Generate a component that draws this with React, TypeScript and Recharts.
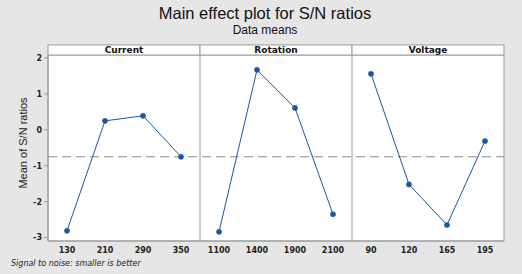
import React from 'react';
import { LineChart, Line, XAxis, YAxis, ReferenceArea, ReferenceLine } from 'recharts';

const factorNames = ['Current', 'Rotation', 'Voltage'];
const currentLevels = ['130', '210', '290', '350'];
const rotationLevels = ['1100', '1400', '1900', '2100'];
const voltageLevels = ['90', '120', '165', '195'];
const currentValues = [-2.81, 0.25, 0.39, -0.75];
const rotationValues = [-2.84, 1.67, 0.61, -2.35];
const voltageValues = [1.56, -1.52, -2.65, -0.31];
const overallMean = -0.75;
const yTicks = [-3, -2, -1, 0, 1, 2];

const xLabels = [...currentLevels, ...rotationLevels, ...voltageLevels];
const series = [currentValues, rotationValues, voltageValues];

const data = xLabels.map((label, i) => {
  const panel = Math.floor(i / 4);
  const row: any = { x: i, label };
  factorNames.forEach((name, k) => {
    row[name] = k === panel ? series[k][i % 4] : null;
  });
  return row;
});

const Y_MIN = -3.095;
const Y_MAX = 2.084;
const HEADER_TOP = 2.364;
const X_MIN = -0.5;
const X_MAX = 11.5;

const BORDER = '#9a9a9a';
const BLUE = '#1c56a0';
const TICK_FONT = { fontFamily: 'DejaVu Sans', fontSize: 8, fontWeight: 'bold', fill: '#222' } as any;

const YLabel = (props: any) => {
  const vb = props.viewBox || { x: 0, y: 55, width: 48, height: 186 };
  const cx = 27;
  const cy = vb.y + vb.height / 2 - 5;
  return (
    <text
      x={cx}
      y={cy}
      transform={`rotate(-90 ${cx} ${cy})`}
      textAnchor="middle"
      fontFamily="Liberation Sans"
      fontSize={11}
      fill="#222"
    >
      Mean of S/N ratios
    </text>
  );
};

export default function App() {
  return (
    <div style={{ position: 'absolute', left: 0, top: 0, width: 522, height: 274, background: '#e6e6e6', overflow: 'hidden' }}>
      <div style={{ position: 'absolute', left: 0, width: 530, top: 3, textAlign: 'center', fontFamily: 'Liberation Sans', fontSize: 16.5, color: '#111', lineHeight: '20px' }}>
        Main effect plot for S/N ratios
      </div>
      <div style={{ position: 'absolute', left: 0, width: 530, top: 23, textAlign: 'center', fontFamily: 'Liberation Sans', fontSize: 12, color: '#111', lineHeight: '14px' }}>
        Data means
      </div>
      <div style={{ position: 'absolute', left: 11, top: 259, fontFamily: 'DejaVu Sans', fontStyle: 'italic', fontSize: 8, color: '#222', lineHeight: '10px' }}>
        Signal to noise: smaller is better
      </div>
      <div style={{ position: 'absolute', left: 0, top: 0 }}>
        <LineChart width={522} height={274} data={data} margin={{ top: 55, right: 18, bottom: 3, left: 0 }}>
          <ReferenceArea x1={X_MIN} x2={X_MAX} y1={Y_MIN} y2={Y_MAX} fill="#ffffff" fillOpacity={1} stroke={BORDER} ifOverflow="visible" />
          {factorNames.map((name, k) => (
            <ReferenceArea
              key={name}
              x1={k * 4 - 0.5}
              x2={k * 4 + 3.5}
              y1={Y_MAX}
              y2={HEADER_TOP}
              fill="#ffffff"
              fillOpacity={1}
              stroke={BORDER}
              ifOverflow="visible"
              label={{ value: name, position: 'center', fontFamily: 'DejaVu Sans', fontSize: 9, fontWeight: 'bold', fill: '#111' }}
            />
          ))}
          <XAxis
            dataKey="x"
            type="number"
            domain={[X_MIN, X_MAX]}
            ticks={xLabels.map((_, i) => i)}
            interval={0}
            height={30}
            tickFormatter={(v: number) => xLabels[v]}
            tickLine={false}
            tickSize={4}
            tickMargin={2}
            axisLine={{ stroke: BORDER }}
            tick={TICK_FONT}
            allowDataOverflow
          />
          <YAxis
            type="number"
            domain={[Y_MIN, Y_MAX]}
            ticks={yTicks}
            width={48}
            tickSize={4}
            tickMargin={2}
            tickLine={{ stroke: BORDER }}
            axisLine={{ stroke: BORDER }}
            tick={TICK_FONT}
            allowDataOverflow
            label={<YLabel />}
          />
          <ReferenceLine x={3.5} stroke={BORDER} ifOverflow="visible" />
          <ReferenceLine x={7.5} stroke={BORDER} ifOverflow="visible" />
          <ReferenceLine y={overallMean} stroke="#8c8c8c" strokeDasharray="9 5" />
          {factorNames.map((name) => (
            <Line
              key={name}
              dataKey={name}
              stroke={BLUE}
              strokeWidth={1}
              dot={{ r: 2.6, fill: BLUE, stroke: BLUE, strokeWidth: 0.5 }}
              activeDot={false}
              connectNulls={false}
              isAnimationActive={false}
            />
          ))}
        </LineChart>
      </div>
    </div>
  );
}
